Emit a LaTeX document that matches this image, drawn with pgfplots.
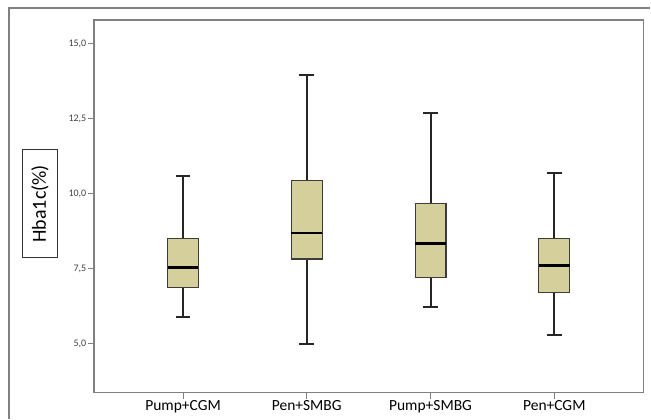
\documentclass[border=0pt]{standalone}
\usepackage{fontspec}
\setmainfont{Carlito}
\usepackage{pgfplots}
\pgfplotsset{compat=1.18}
\definecolor{boxfill}{RGB}{213,207,155}
\definecolor{boxedge}{RGB}{60,60,60}
\definecolor{axisgray}{RGB}{128,128,128}
\pgfplotsset{
  whisk/.style={black!85, line width=2bp, mark=none, forget plot},
  boxs/.style={fill=boxfill, draw=boxedge, line width=1.1bp, line join=miter, mark=none, forget plot},
  med/.style={black, line width=2.6bp, mark=none, forget plot},
}
\begin{document}
\begin{tikzpicture}
\begin{axis}[
  at={(0,0)}, anchor=south west,
  scale only axis, width=550bp, height=373bp,
  xmin=-0.72, xmax=3.72, ymin=3.37, ymax=15.78,
  axis line style={axisgray, line width=1.2bp},
  tick align=outside, tick pos=left,
  major tick length=6bp,
  tick style={axisgray, line width=1bp},
  xtick={0,1,2,3},
  xticklabels={Pump+CGM,Pen+SMBG,Pump+SMBG,\raisebox{-2.5bp}{Pen+CGM}},
  x tick label style={font=\fontsize{15.5bp}{18bp}\selectfont, text=black, inner sep=2bp},
  ytick={5,7.5,10,12.5,15},
  y tick label style={font=\fontsize{10bp}{12bp}\selectfont, text=black!75, inner sep=1.5bp},
  yticklabel style={/pgf/number format/.cd, fixed, fixed zerofill, precision=1, use comma, assume math mode=true},
  ylabel={Hba1c(\%)},
  every axis y label/.style={at={(axis description cs:-0.0982,0.5067)}, rotate=90, anchor=center,
    draw=black!80, line width=0.9bp, fill=white, minimum width=108bp, minimum height=35bp,
    font=\fontsize{20bp}{24bp}\selectfont},
]
% Pump+CGM: lower whisker 5.90, Q1 6.87, median 7.53, Q3 8.50, upper whisker 10.57
\addplot[whisk] coordinates {(0,5.90) (0,10.57)};
\addplot[whisk] coordinates {(-0.06,5.90) (0.06,5.90)};
\addplot[whisk] coordinates {(-0.06,10.57) (0.06,10.57)};
\addplot[boxs] coordinates {(-0.125,6.87) (0.125,6.87) (0.125,8.50) (-0.125,8.50)} -- cycle;
\addplot[med] coordinates {(-0.125,7.53) (0.125,7.53)};
% Pen+SMBG: 4.99, 7.82, 8.68, 10.43, 13.96
\addplot[whisk] coordinates {(1,4.99) (1,13.96)};
\addplot[whisk] coordinates {(0.94,4.99) (1.06,4.99)};
\addplot[whisk] coordinates {(0.94,13.96) (1.06,13.96)};
\addplot[boxs] coordinates {(0.875,7.82) (1.125,7.82) (1.125,10.43) (0.875,10.43)} -- cycle;
\addplot[med] coordinates {(0.875,8.68) (1.125,8.68)};
% Pump+SMBG: 6.21, 7.21, 8.33, 9.68, 12.68
\addplot[whisk] coordinates {(2,6.21) (2,12.68)};
\addplot[whisk] coordinates {(1.94,6.21) (2.06,6.21)};
\addplot[whisk] coordinates {(1.94,12.68) (2.06,12.68)};
\addplot[boxs] coordinates {(1.875,7.21) (2.125,7.21) (2.125,9.68) (1.875,9.68)} -- cycle;
\addplot[med] coordinates {(1.875,8.33) (2.125,8.33)};
% Pen+CGM: 5.30, 6.70, 7.61, 8.50, 10.68
\addplot[whisk] coordinates {(3,5.30) (3,10.68)};
\addplot[whisk] coordinates {(2.94,5.30) (3.06,5.30)};
\addplot[whisk] coordinates {(2.94,10.68) (3.06,10.68)};
\addplot[boxs] coordinates {(2.875,6.70) (3.125,6.70) (3.125,8.50) (2.875,8.50)} -- cycle;
\addplot[med] coordinates {(2.875,7.61) (3.125,7.61)};
\end{axis}
\draw[axisgray, line width=1.2bp] (-85bp,-26bp) -- (-85bp,385bp) -- (557bp,385bp);
\path[use as bounding box] (-94bp,-26bp) rectangle (557bp,393bp);
\end{tikzpicture}
\end{document}
